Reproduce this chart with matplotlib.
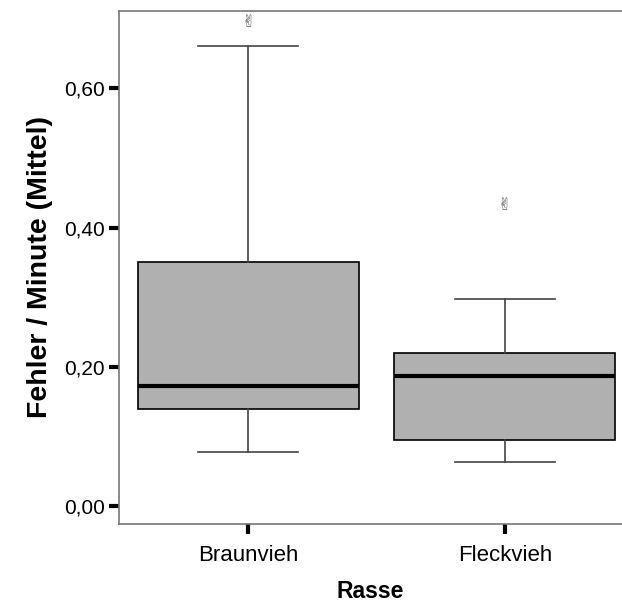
import matplotlib
matplotlib.use("Agg")
from matplotlib import pyplot as plt

# data (box statistics per breed)
rassen = ["Braunvieh", "Fleckvieh"]
q1 = [0.139, 0.095]
median = [0.172, 0.187]
q3 = [0.351, 0.220]
whisker_low = [0.078, 0.063]
whisker_high = [0.661, 0.298]
ausreisser = [[0.695], [0.432]]
ytick_vals = [0.0, 0.2, 0.4, 0.6]
ytick_labels = ["0,00", "0,20", "0,40", "0,60"]

plt.rcParams["font.family"] = ["Liberation Sans", "DejaVu Sans"]

fig = plt.figure(figsize=(6.22, 6.04), dpi=100)
ax = fig.add_axes([0.1913, 0.1325, 0.8087, 0.850])

stats = []
for i, name in enumerate(rassen):
	stats.append({
		"label": name,
		"q1": q1[i], "med": median[i], "q3": q3[i],
		"whislo": whisker_low[i], "whishi": whisker_high[i],
		"fliers": [],
	})

ax.bxp(stats, positions=[1, 2], widths=0.86, patch_artist=True,
	capwidths=0.39,
	boxprops=dict(facecolor="#b0b0b0", edgecolor="black", linewidth=1.2),
	medianprops=dict(color="black", linewidth=3),
	whiskerprops=dict(color="#444444", linewidth=1.2),
	capprops=dict(color="#444444", linewidth=1.2))

# outliers drawn as small grey symbols like in the SPSS output
for i, vals in enumerate(ausreisser):
	for v in vals:
		ax.text(i + 1, v, "\u270c", ha="center", va="center", fontsize=12,
			color="#555555", family=["DejaVu Sans"])

ax.set_xlim(0.496, 2.457)
ax.set_ylim(-0.026, 0.712)
ax.set_yticks(ytick_vals)
ax.set_yticklabels(ytick_labels)
ax.set_xticks([1, 2])
ax.set_xticklabels(rassen)

for side in ["left", "bottom", "top"]:
	ax.spines[side].set_color("#777777")
	ax.spines[side].set_linewidth(1.2)
ax.spines["right"].set_visible(False)

ax.tick_params(axis="both", length=7, width=3, color="black")
ax.tick_params(axis="y", pad=3, labelsize=15)
ax.tick_params(axis="x", pad=8, labelsize=16)

ax.set_xlabel("Rasse", fontsize=16.5, fontweight="bold", labelpad=10)
ax.set_ylabel("Fehler / Minute (Mittel)", fontsize=20.5, fontweight="bold", labelpad=8)

fig.savefig("out.png", dpi=100)
